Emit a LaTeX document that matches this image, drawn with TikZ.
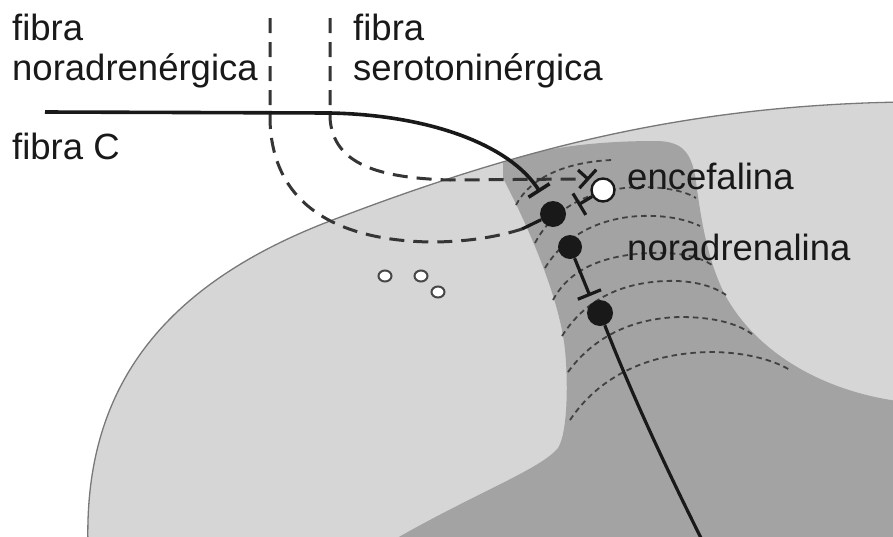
\documentclass[tikz,border=0pt]{standalone}
\usepackage{fontspec}
\setmainfont{Liberation Sans}
\usetikzlibrary{arrows.meta}
\definecolor{paleMatter}{RGB}{214,214,214}
\definecolor{greyMatter}{RGB}{163,163,163}
\definecolor{rimGrey}{RGB}{120,120,120}
\definecolor{ink}{RGB}{25,25,25}
\definecolor{laminaInk}{RGB}{65,65,65}
\begin{document}
\begin{tikzpicture}[x=1pt,y=-1pt,
  label/.style={anchor=base west, inner sep=0pt, text=ink, font=\fontsize{36.5}{40}\selectfont},
  fiberC/.style={draw=ink, line width=3.6pt},
  axon/.style={draw=ink, line width=3.2pt},
  dashfiber/.style={draw=ink!88!white, line width=3pt, dash pattern=on 15pt off 9pt},
  lamina/.style={draw=laminaInk, line width=1.8pt, dash pattern=on 5.5pt off 4pt},
  soma/.style={circle, fill=ink, minimum size=26pt, inner sep=0pt},
  enk/.style={circle, fill=white, draw=ink, line width=2.4pt, minimum size=23pt, inner sep=0pt},
  pore/.style={draw=rimGrey!60!black, line width=2pt, fill=white},
  terminal/.style={-{Bar[width=25pt]}},
]
\useasboundingbox (0,0) rectangle (893,536);
\fill[white] (0,0) rectangle (893,536);
\clip (0,0) rectangle (893,536);

% spinal cord section (pale) and dorsal horn (darker)
\def\cordpath{(88,545) .. controls (84,400) and (150,290) .. (330,221)
  .. controls (510,152) and (680,105) .. (893,103) -- (905,102) -- (905,545) -- cycle}
\fill[paleMatter] \cordpath;
\begin{scope}
  \clip \cordpath;
  \fill[greyMatter] (503,163) .. controls (540,147) and (600,141) .. (655,141)
    .. controls (680,141) and (690,150) .. (695,175)
    .. controls (700,210) and (705,255) .. (725,295)
    .. controls (755,350) and (820,392) .. (905,402)
    -- (905,545) -- (385,545)
    .. controls (470,495) and (540,470) .. (558,448)
    .. controls (568,432) and (568,380) .. (565,350)
    .. controls (560,300) and (530,230) .. (503,178) -- cycle;
\end{scope}
\draw[rimGrey, line width=1.3pt] (88,545) .. controls (84,400) and (150,290) .. (330,221)
  .. controls (510,152) and (680,105) .. (905,102);

% laminae
\draw[lamina] (516,205) .. controls (530,178) and (565,162) .. (612,160);
\draw[lamina] (535,243) .. controls (555,205) and (595,188) .. (640,187)
  .. controls (665,187) and (685,191) .. (696,198);
\draw[lamina] (545,268) .. controls (565,235) and (600,218) .. (640,216)
  .. controls (665,215) and (685,219) .. (700,226);
\draw[lamina] (553,300) .. controls (570,268) and (605,255) .. (650,253)
  .. controls (680,252) and (700,257) .. (712,265);
\draw[lamina] (562,336) .. controls (585,300) and (620,283) .. (665,281)
  .. controls (690,280) and (712,285) .. (726,295);
\draw[lamina] (568,372) .. controls (595,335) and (635,318) .. (680,317)
  .. controls (710,317) and (735,322) .. (752,334);
\draw[lamina] (570,420) .. controls (600,375) and (650,353) .. (710,352)
  .. controls (740,352) and (770,358) .. (790,370);

% small vessels
\draw[pore] (385,276) ellipse [x radius=6.5pt, y radius=5.5pt];
\draw[pore] (421,276) ellipse [x radius=6.5pt, y radius=5.5pt];
\draw[pore] (438,292) ellipse [x radius=6.5pt, y radius=5.5pt];

% neurons
\node[soma] (n1) at (553,214) {};
\node[soma, minimum size=24pt] (n2) at (570,247) {};
\node[soma] (n3) at (600,313) {};
\node[enk] (e1) at (603,190) {};

% descending fibres
\coordinate (naEnd) at (522,229);
\draw[dashfiber] (270,18) -- (270,120) .. controls (272,200) and (330,240) .. (430,242)
  .. controls (470,242) and (500,236) .. (naEnd);
\draw[axon] (n1) -- (naEnd);
\coordinate (htEnd) at (577,179);
\coordinate (htStub) at (578,170);
\coordinate (htTip) at (589,180);
\draw[dashfiber] (330,18) -- (330,118) .. controls (333,165) and (380,178) .. (450,180) -- (htEnd);
\draw[axon, terminal] (htStub) -- (htTip);

% primary afferent
\coordinate (cStart) at (45,112);
\coordinate (cTip) at (540,192);
\draw[fiberC, terminal] (cStart) -- (330,113) .. controls (430,115) and (510,145) .. (cTip);

% local circuit
\coordinate (eTip) at (578,205);
\draw[axon, terminal] (e1) -- (eTip);
\coordinate (n2Tip) at (590,296);
\draw[axon, terminal] (n2) -- (n2Tip);
\coordinate (n3Out) at (702,540);
\draw[axon] (n3) .. controls (632,395) and (667,470) .. (n3Out);

% labels
\node[label] (l1) at (12,40) {fibra};
\node[label] (l2) at (12,80) {noradrenérgica};
\node[label] (l3) at (353,40) {fibra};
\node[label] (l4) at (353,80) {serotoninérgica};
\node[label] (l5) at (12,159) {fibra C};
\node[label] (l6) at (627,189) {encefalina};
\node[label] (l7) at (627,260) {noradrenalina};
\end{tikzpicture}
\end{document}
